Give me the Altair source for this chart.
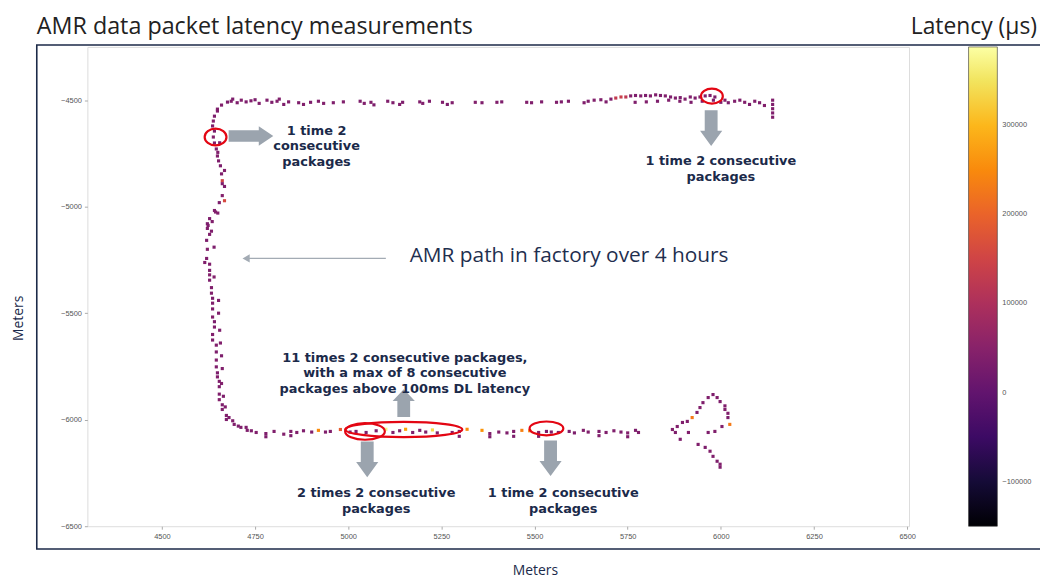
import altair as alt
import pandas as pd

# ---------------- data (x metres, y metres, latency µs) ----------------
left_side = [
    (4649, -4542, 38000), (4660, -4523, 42000), (4676, -4509, 35000),
    (4649, -4551, 40000), (4641, -4575, 36000), (4638, -4598, 44000), (4636, -4621, 38000),
    (4641, -4645, 32000), (4638, -4673, 45000), (4641, -4701, 40000), (4646, -4729, 36000),
    (4649, -4762, 42000), (4652, -4785, 38000), (4657, -4808, 35000), (4660, -4846, 41000),
    (4662, -4878, 150000), (4662, -4892, 38000), (4668, -4972, 160000), (4662, -4948, 44000),
    (4654, -4981, 36000), (4641, -5018, 40000), (4644, -5025, 42000), (4628, -5056, 38000),
    (4622, -5080, 35000), (4624, -5088, 37000), (4622, -5102, 41000), (4628, -5130, 39000),
    (4620, -5158, 36000), (4622, -5200, 42000), (4620, -5243, 38000), (4628, -5270, 40000),
    (4628, -5299, 35000), (4628, -5320, 44000), (4628, -5345, 37000), (4633, -5380, 39000),
    (4633, -5406, 42000), (4636, -5430, 36000), (4636, -5453, 40000), (4636, -5480, 38000),
    (4636, -5518, 43000), (4641, -5540, 35000), (4641, -5565, 39000), (4636, -5600, 41000),
    (4636, -5626, 37000), (4646, -5650, 40000), (4646, -5682, 36000), (4646, -5720, 42000),
    (4646, -5752, 38000), (4649, -5780, 35000), (4649, -5799, 41000), (4654, -5820, 39000),
    (4654, -5845, 37000), (4654, -5880, 40000), (4654, -5906, 43000), (4662, -5930, 36000),
    (4662, -5952, 39000), (4673, -5980, 41000), (4673, -5999, 37000), (4694, -6022, 40000),
    (4726, -6036, 38000),
    (4655, -4700, 37000), (4650, -4745, 40000), (4668, -4830, 42000), (4668, -4905, 36000),
    (4650, -5030, 39000), (4635, -5070, 41000), (4633, -5115, 38000), (4640, -5190, 36000),
    (4615, -5262, 40000), (4640, -5330, 42000), (4652, -5440, 37000), (4652, -5500, 40000),
    (4655, -5580, 38000), (4657, -5640, 41000), (4660, -5700, 36000), (4662, -5760, 39000),
    (4660, -5830, 42000), (4665, -5890, 37000), (4670, -5940, 40000), (4680, -5990, 38000),
    (4690, -6005, 41000), (4705, -6030, 36000), (4712, -6036, 39000),
]

top_row = [
    (4686, -4505, 40000), (4690, -4495, 36000), (4702, -4512, 38000), (4713, -4500, 42000),
    (4726, -4508, 37000), (4739, -4503, 40000), (4750, -4498, 35000), (4761, -4515, 41000),
    (4782, -4500, 38000), (4795, -4510, 36000), (4809, -4505, 42000), (4815, -4495, 39000),
    (4827, -4520, 37000), (4840, -4508, 40000), (4867, -4512, 38000), (4880, -4520, 41000),
    (4899, -4510, 36000), (4920, -4505, 39000), (4934, -4515, 42000), (4960, -4512, 38000),
    (4987, -4508, 40000), (5032, -4505, 37000), (5043, -4515, 41000), (5061, -4510, 39000),
    (5069, -4522, 36000), (5106, -4505, 40000), (5120, -4512, 38000), (5138, -4520, 42000),
    (5146, -4510, 37000), (5192, -4508, 39000), (5200, -4515, 41000), (5218, -4505, 38000),
    (5253, -4510, 40000), (5266, -4520, 36000), (5279, -4512, 39000), (5341, -4510, 42000),
    (5359, -4512, 38000), (5399, -4510, 40000), (5412, -4508, 37000), (5479, -4510, 41000),
    (5492, -4512, 39000), (5519, -4508, 38000), (5559, -4510, 40000), (5572, -4508, 37000),
    (5591, -4505, 41000), (5633, -4512, 39000), (5644, -4505, 38000), (5660, -4500, 42000),
    (5678, -4498, 40000), (5692, -4508, 37000), (5705, -4495, 39000), (5718, -4490, 130000),
    (5732, -4485, 140000), (5745, -4485, 125000), (5758, -4480, 41000), (5771, -4478, 38000),
    (5785, -4480, 40000), (5798, -4478, 36000), (5811, -4480, 42000), (5825, -4475, 39000),
    (5838, -4478, 37000), (5851, -4480, 41000), (5865, -4485, 38000), (5878, -4490, 40000),
    (5891, -4488, 36000), (5904, -4495, 42000), (5918, -4485, 39000), (5931, -4490, 37000),
    (5944, -4485, 41000), (5958, -4480, 38000), (5971, -4478, 40000), (5984, -4485, 36000),
    (6011, -4500, 42000), (6037, -4505, 39000), (6051, -4500, 37000), (6064, -4510, 41000),
    (6077, -4520, 38000), (6091, -4505, 40000), (6104, -4512, 36000), (6117, -4525, 42000),
    (6139, -4500, 39000), (6139, -4520, 37000), (6139, -4540, 41000), (6139, -4560, 38000),
    (6139, -4580, 40000),
    (5770, -4510, 38000), (5800, -4508, 41000), (5830, -4505, 37000), (5860, -4500, 40000),
    (5890, -4505, 39000), (5920, -4510, 36000), (5950, -4505, 42000), (5980, -4500, 38000),
    (6000, -4510, 40000), (6020, -4512, 37000),
]

bottom_row = [
    (4729, -6050, 40000), (4740, -6052, 37000), (4753, -6060, 41000), (4779, -6065, 38000),
    (4779, -6080, 36000), (4801, -6055, 40000), (4827, -6068, 42000), (4846, -6055, 39000),
    (4846, -6075, 37000), (4862, -6060, 41000), (4880, -6052, 38000), (4902, -6058, 40000),
    (4920, -6050, 250000), (4939, -6058, 39000), (4952, -6055, 42000), (4979, -6046, 190000),
    (5005, -6058, 38000), (5021, -6055, 41000), (5048, -6060, 37000), (5075, -6052, 40000),
    (5101, -6045, 370000), (5120, -6060, 39000), (5138, -6052, 42000), (5154, -6045, 280000),
    (5173, -6060, 38000), (5192, -6050, 41000), (5208, -6058, 37000), (5226, -6048, 340000),
    (5239, -6062, 40000), (5279, -6060, 39000), (5298, -6055, 42000), (5298, -6078, 38000),
    (5319, -6045, 250000), (5359, -6050, 260000), (5380, -6065, 40000), (5380, -6080, 37000),
    (5404, -6058, 41000), (5426, -6062, 38000), (5444, -6055, 40000), (5444, -6078, 36000),
    (5466, -6050, 240000), (5487, -6052, 245000), (5511, -6060, 42000), (5511, -6078, 39000),
    (5532, -6055, 37000), (5545, -6058, 41000), (5564, -6060, 38000), (5593, -6055, 40000),
    (5607, -6062, 36000), (5631, -6050, 42000), (5644, -6058, 39000), (5673, -6055, 37000),
    (5673, -6075, 41000), (5692, -6060, 38000), (5713, -6052, 40000), (5732, -6058, 36000),
    (5750, -6062, 42000), (5750, -6080, 39000), (5771, -6050, 37000), (5779, -6060, 41000),
]

right_loop = [
    (5870, -6046, 40000), (5878, -6060, 37000), (5883, -6032, 41000), (5897, -6013, 38000),
    (5910, -6008, 40000), (5923, -5990, 230000), (5936, -5966, 39000), (5944, -5943, 42000),
    (5952, -5920, 38000), (5966, -5896, 40000), (5979, -5882, 37000), (5990, -5896, 41000),
    (5998, -5915, 38000), (6011, -5952, 40000), (6019, -5990, 36000), (6024, -6022, 230000),
    (6003, -6032, 42000), (5984, -6055, 39000), (5966, -6060, 37000), (5913, -6060, 41000),
    (5891, -6092, 38000), (5939, -6116, 40000), (5958, -6130, 36000), (5971, -6148, 42000),
    (5979, -6172, 39000), (5990, -6195, 37000), (5998, -6209, 41000), (5998, -6223, 38000),
    (6011, -5935, 40000), (6019, -5970, 39000),
]

# annotations (data coordinates)
notes_text = [
    "1 time 2\nconsecutive\npackages",
    "1 time 2 consecutive\npackages",
    "11 times 2 consecutive packages,\nwith a max of 8 consecutive\npackages above 100ms DL latency",
    "2 times 2 consecutive\npackages",
    "1 time 2 consecutive\npackages",
]
notes_x = [4915, 6000, 5152, 5075, 5577]
notes_y = [-4645, -4787, -5710, -6345, -6345]

ellipse_id = ["e1", "e2", "e3", "e4", "e5"]
ellipse_x = [4644, 5976, 5149, 5045, 5532]
ellipse_y = [-4673, -4481, -6046, -6055, -6041]
ellipse_w = [22, 22, 118, 40, 34]

arrow_kind = ["right", "down", "up", "down", "down"]
arrow_x = [4739, 5974, 5149, 5051, 5543]
arrow_y = [-4668, -4631, -5922, -6186, -6181]
arrow_len = [45, 36, 28, 36, 36]

path_arrow_x = [4726, 5101]
path_arrow_y = -5243

x_ticks = [4500, 4750, 5000, 5250, 5500, 5750, 6000, 6250, 6500]
y_ticks = [-6500, -6000, -5500, -5000, -4500]
cbar_ticks = [-100000, 0, 100000, 200000, 300000]

# ---------------- build tables ----------------
rows = left_side + top_row + bottom_row + right_loop
pts = pd.DataFrame(rows, columns=["x", "y", "lat"])
notes = pd.DataFrame({"x": notes_x, "y": notes_y, "t": notes_text})
ell = pd.DataFrame({"id": ellipse_id, "x": ellipse_x, "y": ellipse_y,
                    "s": [w * w for w in ellipse_w]})
arr = pd.DataFrame({"kind": arrow_kind, "x": arrow_x, "y": arrow_y,
                    "s": [l * l for l in arrow_len]})
thin = pd.DataFrame({"x1": [path_arrow_x[0]], "x2": [path_arrow_x[1]], "y": [path_arrow_y]})
one = pd.DataFrame({"a": [0]})

W, H = 828, 483
NAVY = "#1b2a4a"
XS = alt.Scale(domain=[4300, 6505], nice=False, zero=False)
YS = alt.Scale(domain=[-6500, -4250], nice=False, zero=False)

x_axis = alt.Axis(values=x_ticks, format="d", grid=False, domain=False, tickColor="#aaaaaa",
                  tickSize=3, labelFontSize=7.5, labelColor="#555555", labelPadding=3,
                  title="Meters", titleX=451, titleY=45, titleBaseline="middle",
                  titleAlign="center", titleFontSize=14, titleFontWeight="normal",
                  titleColor=NAVY, titleFont="Open Sans")
y_axis = alt.Axis(values=y_ticks, format="d", grid=False, domain=False, tickColor="#aaaaaa",
                  tickSize=3, labelFontSize=7.5, labelColor="#555555", labelPadding=3,
                  title="Meters", titleX=-69, titleY=273, titleBaseline="middle",
                  titleAlign="center", titleAngle=270, titleFontSize=14,
                  titleFontWeight="normal", titleColor=NAVY, titleFont="Open Sans")

frame = alt.Chart(one).mark_rect(fill="transparent", stroke="#1c2a48", strokeWidth=1.6).encode(
    x=alt.value(-51), x2=alt.value(990), y=alt.value(-2), y2=alt.value(506))

scatter = alt.Chart(pts).mark_square(size=10, opacity=1, strokeWidth=0).encode(
    x=alt.X("x:Q", scale=XS, axis=x_axis),
    y=alt.Y("y:Q", scale=YS, axis=y_axis),
    color=alt.Color("lat:Q",
                    scale=alt.Scale(scheme="inferno", domain=[-150000, 388000], nice=False, zero=False),
                    legend=alt.Legend(orient="none", legendX=888, legendY=0, direction="vertical",
                                      gradientLength=H, gradientThickness=29, title=None,
                                      values=cbar_ticks, format="d", labelFontSize=7.5,
                                      labelColor="#555555", labelOffset=5,
                                      gradientStrokeColor="#333333", gradientStrokeWidth=0.6)),
)

def ell_path(ry):
    return f"M -1 0 A 1 {ry} 0 1 0 1 0 A 1 {ry} 0 1 0 -1 0 Z"

ellipses = alt.Chart(ell).mark_point(filled=False, color="#e30613", strokeWidth=2.2, opacity=1).encode(
    x=alt.X("x:Q", scale=XS), y=alt.Y("y:Q", scale=YS),
    shape=alt.Shape("id:N", legend=None, scale=alt.Scale(
        domain=ellipse_id,
        range=[ell_path(0.77), ell_path(0.68), ell_path(0.13), ell_path(0.42), ell_path(0.41)])),
    size=alt.Size("s:Q", scale=None),
)

P_RIGHT = "M -1 -0.26 L 0.35 -0.26 L 0.35 -0.44 L 1 0 L 0.35 0.44 L 0.35 0.26 L -1 0.26 Z"
P_DOWN = "M -0.36 -1 L 0.36 -1 L 0.36 0.15 L 0.62 0.15 L 0 1 L -0.62 0.15 L -0.36 0.15 Z"
P_UP = "M 0 -1 L 0.8 -0.15 L 0.46 -0.15 L 0.46 1 L -0.46 1 L -0.46 -0.15 L -0.8 -0.15 Z"

arrows = alt.Chart(arr).mark_point(filled=True, color="#9ba4ae", opacity=1, strokeWidth=0).encode(
    x=alt.X("x:Q", scale=XS), y=alt.Y("y:Q", scale=YS),
    shape=alt.Shape("kind:N", legend=None, scale=alt.Scale(
        domain=["right", "down", "up"], range=[P_RIGHT, P_DOWN, P_UP])),
    size=alt.Size("s:Q", scale=None),
)

thin_line = alt.Chart(thin).mark_rule(color="#a3abb4", strokeWidth=1.2).encode(
    x=alt.X("x1:Q", scale=XS), x2="x2:Q", y=alt.Y("y:Q", scale=YS))
thin_head = alt.Chart(thin).mark_point(shape="triangle-left", filled=True, size=70,
                                       color="#a3abb4", opacity=1).encode(
    x=alt.X("x1:Q", scale=XS), y=alt.Y("y:Q", scale=YS))

note_text = alt.Chart(notes).mark_text(font="DejaVu Sans", fontSize=13, fontWeight="bold",
                                       color=NAVY, align="center", baseline="middle",
                                       lineBreak="\n", lineHeight=15.5).encode(
    x=alt.X("x:Q", scale=XS), y=alt.Y("y:Q", scale=YS), text="t:N")

path_label = alt.Chart(one).mark_text(font="Open Sans", fontSize=21, color="#1f2f4f",
                                      align="left", baseline="middle",
                                      text="AMR path in factory over 4 hours").encode(
    x=alt.datum(5165, scale=XS), y=alt.datum(-5233, scale=YS))

lat_label = alt.Chart(one).mark_text(font="Open Sans", fontSize=23, color="#222222",
                                     align="right", baseline="alphabetic",
                                     text="Latency (µs)").encode(
    x=alt.value(957), y=alt.value(-13))

title_label = alt.Chart(one).mark_text(font="Open Sans", fontSize=23.5, color="#222222",
                                       align="left", baseline="alphabetic",
                                       text="AMR data packet latency measurements").encode(
    x=alt.value(-51), y=alt.value(-13))

chart = alt.layer(
    frame, scatter, ellipses, arrows, thin_line, thin_head, note_text, path_label,
    lat_label, title_label
).resolve_scale(shape="independent").properties(
    width=W, height=H,
    autosize=alt.AutoSizeParams(type="none"),
    padding={"left": 80, "top": 37, "right": 132, "bottom": 54},
).configure_view(stroke="#c4c4c4", strokeWidth=1).configure(background="white")

chart.save("out.html", embed_options={"renderer": "svg", "actions": False})
